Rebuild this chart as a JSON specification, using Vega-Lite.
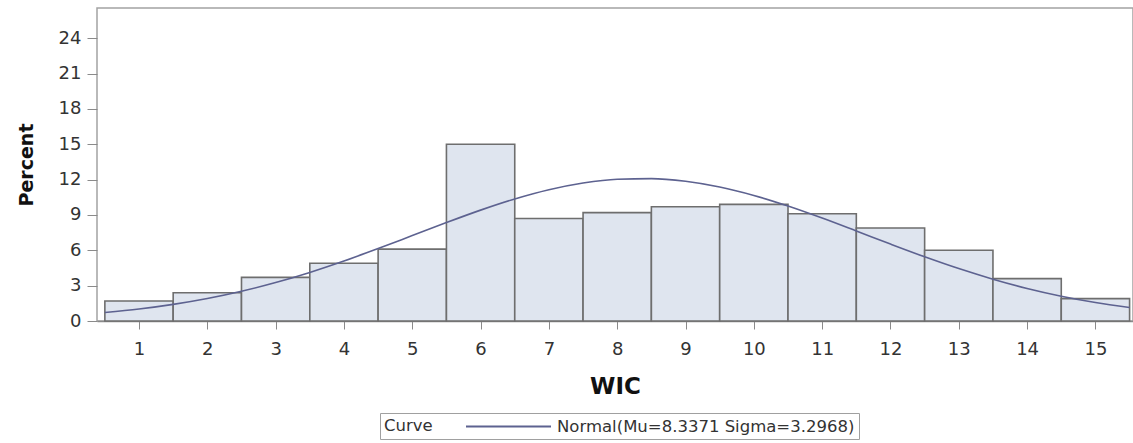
{
  "$schema": "https://vega.github.io/schema/vega-lite/v6.json",
  "autosize": "none",
  "width": 1036,
  "height": 313,
  "padding": {"left": 97, "top": 8, "right": 0, "bottom": 122},
  "background": "white",
  "config": {
    "view": {"stroke": "#a3a3a3", "strokeWidth": 1.5},
    "font": "DejaVu Sans",
    "axis": {"grid": false, "labelFont": "DejaVu Sans", "titleFont": "DejaVu Sans", "labelColor": "#333333", "titleColor": "#111111", "tickColor": "#8a8a8a", "domainColor": "#8a8a8a", "labelOverlap": false, "labelFlush": false}
  },
  "datasets": {
    "bars": [
      {"wic": 1, "lo": 0.5, "hi": 1.5, "percent": 1.7},
      {"wic": 2, "lo": 1.5, "hi": 2.5, "percent": 2.4},
      {"wic": 3, "lo": 2.5, "hi": 3.5, "percent": 3.7},
      {"wic": 4, "lo": 3.5, "hi": 4.5, "percent": 4.9},
      {"wic": 5, "lo": 4.5, "hi": 5.5, "percent": 6.1},
      {"wic": 6, "lo": 5.5, "hi": 6.5, "percent": 15.0},
      {"wic": 7, "lo": 6.5, "hi": 7.5, "percent": 8.7},
      {"wic": 8, "lo": 7.5, "hi": 8.5, "percent": 9.2},
      {"wic": 9, "lo": 8.5, "hi": 9.5, "percent": 9.7},
      {"wic": 10, "lo": 9.5, "hi": 10.5, "percent": 9.9},
      {"wic": 11, "lo": 10.5, "hi": 11.5, "percent": 9.1},
      {"wic": 12, "lo": 11.5, "hi": 12.5, "percent": 7.9},
      {"wic": 13, "lo": 12.5, "hi": 13.5, "percent": 6.0},
      {"wic": 14, "lo": 13.5, "hi": 14.5, "percent": 3.6},
      {"wic": 15, "lo": 14.5, "hi": 15.5, "percent": 1.9}
    ],
    "curve": [
      {"x": 0.5, "y": 0.717, "curve": "Normal(Mu=8.3371 Sigma=3.2968)"},
      {"x": 1.0, "y": 1.016, "curve": "Normal(Mu=8.3371 Sigma=3.2968)"},
      {"x": 1.5, "y": 1.409, "curve": "Normal(Mu=8.3371 Sigma=3.2968)"},
      {"x": 2.0, "y": 1.908, "curve": "Normal(Mu=8.3371 Sigma=3.2968)"},
      {"x": 2.5, "y": 2.524, "curve": "Normal(Mu=8.3371 Sigma=3.2968)"},
      {"x": 3.0, "y": 3.265, "curve": "Normal(Mu=8.3371 Sigma=3.2968)"},
      {"x": 3.5, "y": 4.124, "curve": "Normal(Mu=8.3371 Sigma=3.2968)"},
      {"x": 4.0, "y": 5.093, "curve": "Normal(Mu=8.3371 Sigma=3.2968)"},
      {"x": 4.5, "y": 6.147, "curve": "Normal(Mu=8.3371 Sigma=3.2968)"},
      {"x": 5.0, "y": 7.250, "curve": "Normal(Mu=8.3371 Sigma=3.2968)"},
      {"x": 5.5, "y": 8.356, "curve": "Normal(Mu=8.3371 Sigma=3.2968)"},
      {"x": 6.0, "y": 9.412, "curve": "Normal(Mu=8.3371 Sigma=3.2968)"},
      {"x": 6.5, "y": 10.361, "curve": "Normal(Mu=8.3371 Sigma=3.2968)"},
      {"x": 7.0, "y": 11.146, "curve": "Normal(Mu=8.3371 Sigma=3.2968)"},
      {"x": 7.5, "y": 11.717, "curve": "Normal(Mu=8.3371 Sigma=3.2968)"},
      {"x": 8.0, "y": 12.038, "curve": "Normal(Mu=8.3371 Sigma=3.2968)"},
      {"x": 8.5, "y": 12.087, "curve": "Normal(Mu=8.3371 Sigma=3.2968)"},
      {"x": 9.0, "y": 11.859, "curve": "Normal(Mu=8.3371 Sigma=3.2968)"},
      {"x": 9.5, "y": 11.371, "curve": "Normal(Mu=8.3371 Sigma=3.2968)"},
      {"x": 10.0, "y": 10.655, "curve": "Normal(Mu=8.3371 Sigma=3.2968)"},
      {"x": 10.5, "y": 9.758, "curve": "Normal(Mu=8.3371 Sigma=3.2968)"},
      {"x": 11.0, "y": 8.733, "curve": "Normal(Mu=8.3371 Sigma=3.2968)"},
      {"x": 11.5, "y": 7.638, "curve": "Normal(Mu=8.3371 Sigma=3.2968)"},
      {"x": 12.0, "y": 6.528, "curve": "Normal(Mu=8.3371 Sigma=3.2968)"},
      {"x": 12.5, "y": 5.453, "curve": "Normal(Mu=8.3371 Sigma=3.2968)"},
      {"x": 13.0, "y": 4.451, "curve": "Normal(Mu=8.3371 Sigma=3.2968)"},
      {"x": 13.5, "y": 3.551, "curve": "Normal(Mu=8.3371 Sigma=3.2968)"},
      {"x": 14.0, "y": 2.767, "curve": "Normal(Mu=8.3371 Sigma=3.2968)"},
      {"x": 14.5, "y": 2.108, "curve": "Normal(Mu=8.3371 Sigma=3.2968)"},
      {"x": 15.0, "y": 1.570, "curve": "Normal(Mu=8.3371 Sigma=3.2968)"},
      {"x": 15.5, "y": 1.142, "curve": "Normal(Mu=8.3371 Sigma=3.2968)"}
    ]
  },
  "layer": [
    {
      "data": {"name": "bars"},
      "mark": {"type": "rect", "fill": "#dfe5ef", "stroke": "#6e6e6e", "strokeWidth": 1.6},
      "encoding": {
        "x": {"field": "lo", "type": "quantitative",
              "scale": {"domain": [0.385, 15.55], "nice": false, "zero": false},
              "axis": {"values": [1,2,3,4,5,6,7,8,9,10,11,12,13,14,15], "tickCount": 30, "format": "d", "title": "WIC",
                       "labelFontSize": 18, "tickSize": 8, "labelPadding": 11, "titleFontSize": 23, "titleFontWeight": "bold", "titlePadding": 17, "domain": true, "domainWidth": 1.5}},
        "x2": {"field": "hi"},
        "y": {"field": "percent", "type": "quantitative",
              "scale": {"domain": [0, 26.57], "nice": false},
              "axis": {"values": [0,3,6,9,12,15,18,21,24], "tickCount": 20, "title": "Percent", "labelFontSize": 18, "tickSize": 10, "labelPadding": 6,
                       "titleFontSize": 19, "titleFontWeight": "bold", "titlePadding": 22, "domain": false}},
        "y2": {"datum": 0}
      }
    },
    {
      "data": {"name": "curve"},
      "mark": {"type": "line", "interpolate": "monotone", "strokeWidth": 1.6},
      "encoding": {
        "x": {"field": "x", "type": "quantitative"},
        "y": {"field": "y", "type": "quantitative"},
        "stroke": {"field": "curve", "type": "nominal",
                   "scale": {"range": ["#5d6290"]},
                   "legend": {"title": "Curve", "orient": "none", "legendX": 283, "legendY": 405,
                              "direction": "horizontal", "titleOrient": "left", "titleFontWeight": "normal",
                              "titleFont": "DejaVu Sans", "titleFontSize": 16.5, "titleColor": "#333333", "titlePadding": 66,
                              "labelFont": "DejaVu Sans", "labelFontSize": 16.5, "labelColor": "#333333", "labelOffset": 39, "labelLimit": 0,
                              "symbolType": "M-5,0H5", "symbolSize": 289, "symbolStrokeWidth": 2,
                              "strokeColor": "#a0a0a0", "padding": 4}}
      }
    }
  ]
}
